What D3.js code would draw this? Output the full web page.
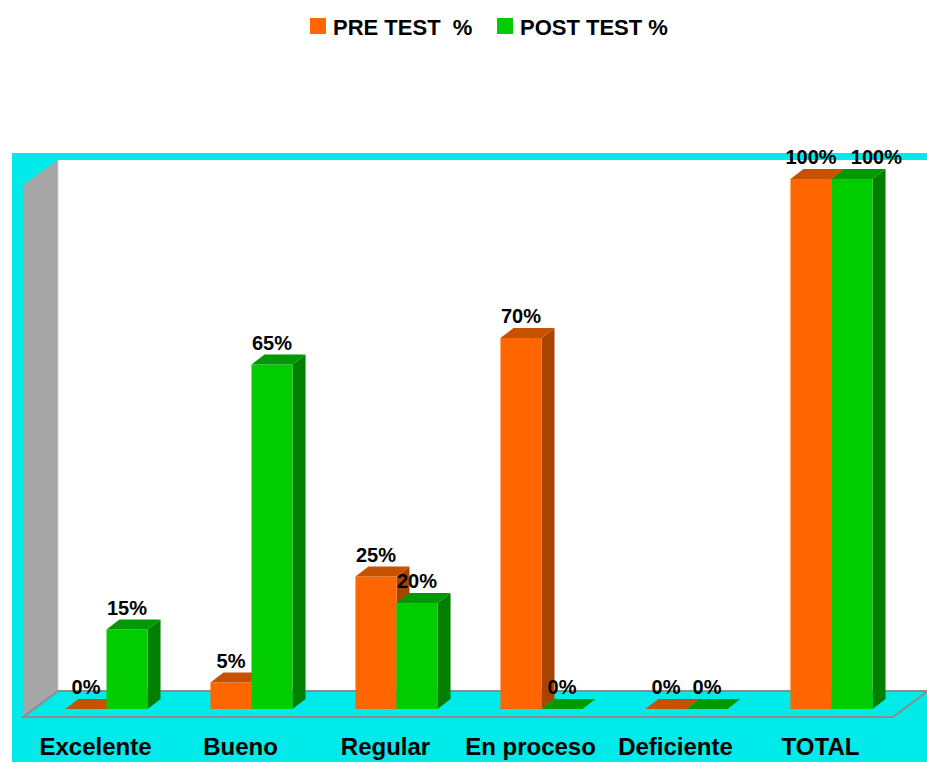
<!DOCTYPE html>
<html>
<head>
<meta charset="utf-8">
<script src="https://cdnjs.cloudflare.com/ajax/libs/d3/7.8.5/d3.min.js"></script>
<style>
  body { margin: 0; background: #fff; }
  svg text { font-family: "Liberation Sans", Arial, sans-serif; font-weight: bold; }
</style>
</head>
<body>
<svg id="chart" width="927" height="762"></svg>
<script>
// Chart data
const categories = ['Excelente', 'Bueno', 'Regular', 'En proceso', 'Deficiente', 'TOTAL'];
const seriesNames = ['PRE TEST  %', 'POST TEST %'];
const preTest = [0, 5, 25, 70, 0, 100];
const postTest = [15, 65, 20, 0, 0, 100];

const colors = {
  front: ['#FF6600', '#00CC00'],
  top: ['#C65200', '#009A00'],
  side: ['#A84400', '#007F00']
};

const svg = d3.select('#chart');

// 3D geometry (Excel-like depth)
const wallDx = 35, wallDy = 26;   // floor / wall depth
const barDx = 13, barDy = 10;     // bar depth
const frontX = 23, frontY = 717;  // front-left corner of the floor
const wallTop = 160;
const plotW = 870;

// Background (chart area)
svg.append('rect')
  .attr('x', 12).attr('y', 153)
  .attr('width', 927 - 12).attr('height', 762 - 153)
  .attr('fill', '#00EAEA');

// Back wall
svg.append('rect')
  .attr('x', frontX + wallDx).attr('y', wallTop)
  .attr('width', plotW + 2).attr('height', frontY - wallDy - wallTop)
  .attr('fill', '#fff');

// Side wall
svg.append('polygon')
  .attr('points', [
    [frontX, wallTop + wallDy - 1],
    [frontX + wallDx, wallTop],
    [frontX + wallDx, frontY - wallDy],
    [frontX, frontY]
  ].map(p => p.join(',')).join(' '))
  .attr('fill', '#A6A6A6');

svg.append('line')
  .attr('x1', frontX + wallDx).attr('x2', frontX + wallDx)
  .attr('y1', wallTop).attr('y2', frontY - wallDy)
  .attr('stroke', '#d0d0d0').attr('stroke-width', 1);

// Floor
svg.append('polygon')
  .attr('points', [
    [frontX, frontY],
    [frontX + wallDx, frontY - wallDy],
    [frontX + wallDx + plotW, frontY - wallDy],
    [frontX + plotW, frontY]
  ].map(p => p.join(',')).join(' '))
  .attr('fill', '#00EAEA')
  .attr('stroke', '#8c8c8c')
  .attr('stroke-width', 2);

// Scales (bars sit in the middle of the floor depth)
const barOffX = (wallDx - barDx) / 2;
const barOffY = Math.round((wallDy - barDy) / 2);
const x0 = d3.scaleBand()
  .domain(categories)
  .range([frontX + barOffX, frontX + barOffX + plotW])
  .paddingInner(0.434)
  .paddingOuter(0.217);

const x1 = d3.scaleBand()
  .domain(seriesNames)
  .range([0, x0.bandwidth()]);

const y = d3.scaleLinear()
  .domain([0, 100])
  .range([frontY - barOffY, 179]);

const data = [];
categories.forEach((c, i) => {
  data.push({ category: c, series: 0, value: preTest[i] });
  data.push({ category: c, series: 1, value: postTest[i] });
});

const bars = svg.append('g').attr('class', 'bars');
const bw = x1.bandwidth();

data.forEach(d => {
  const bx = x0(d.category) + x1(seriesNames[d.series]);
  const yt = y(d.value);
  const yb = y(0);
  const g = bars.append('g');

  if (d.value > 0) {
    // side face
    g.append('polygon')
      .attr('points', [[bx + bw, yt], [bx + bw + barDx, yt - barDy], [bx + bw + barDx, yb - barDy], [bx + bw, yb]]
        .map(p => p.join(',')).join(' '))
      .attr('fill', colors.side[d.series]);
    // front face
    g.append('rect')
      .attr('x', bx).attr('y', yt)
      .attr('width', bw).attr('height', yb - yt)
      .attr('fill', colors.front[d.series]);
  }
  // top face
  g.append('polygon')
    .attr('points', [[bx, yt], [bx + barDx, yt - barDy], [bx + bw + barDx, yt - barDy], [bx + bw, yt]]
      .map(p => p.join(',')).join(' '))
    .attr('fill', colors.top[d.series]);
});

// Value labels
const labels = svg.append('g').selectAll('text')
  .data(data)
  .enter()
  .append('text')
  .attr('x', d => x0(d.category) + x1(seriesNames[d.series]) + bw / 2)
  .attr('y', d => y(d.value) - barDy - 5)
  .attr('text-anchor', 'middle')
  .style('font-size', '20px')
  .attr('fill', '#000')
  .text(d => d.value + '%');

// nudge a label to the right when it collides with its neighbour at the same height
const boxes = labels.nodes().map(n => n.getBBox());
labels.each(function (d, i) {
  if (d.series === 1) {
    const a = boxes[i - 1], b = boxes[i];
    if (Math.abs(a.y - b.y) < a.height && b.x < a.x + a.width + 4) {
      d3.select(this).attr('x', +d3.select(this).attr('x') + (a.x + a.width + 14 - b.x));
    }
  }
});

// Category labels (centered on front edge of floor)
svg.append('g').selectAll('text')
  .data(categories)
  .enter()
  .append('text')
  .attr('x', d => x0(d) + x0.bandwidth() / 2 - barOffX)
  .attr('y', 755)
  .attr('text-anchor', 'middle')
  .style('font-size', '24px')
  .attr('fill', '#000')
  .text(d => d);

// Legend
const legendItems = [
  { name: seriesNames[0], color: colors.front[0], x: 310 },
  { name: seriesNames[1], color: colors.front[1], x: 497 }
];
const legend = svg.append('g').attr('class', 'legend');
legendItems.forEach(item => {
  legend.append('rect')
    .attr('x', item.x).attr('y', 18)
    .attr('width', 16).attr('height', 16)
    .attr('fill', item.color);
  legend.append('text')
    .attr('x', item.x + 23).attr('y', 35)
    .style('font-size', '22px')
    .style('white-space', 'pre')
    .attr('fill', '#000')
    .text(item.name);
});
</script>
</body>
</html>
